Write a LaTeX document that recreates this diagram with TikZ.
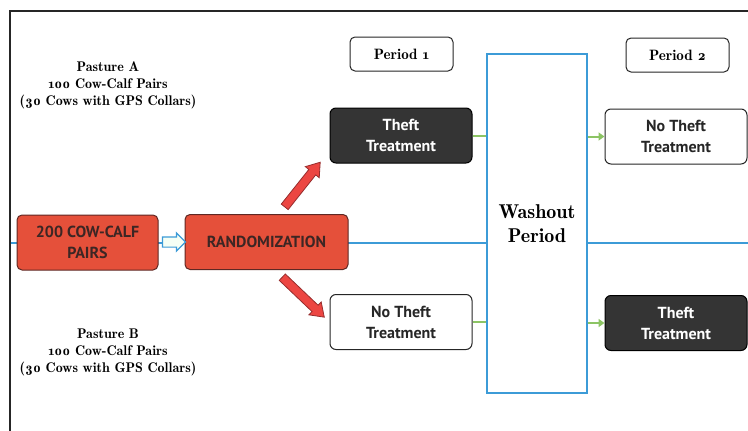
\documentclass[tikz,border=0pt]{standalone}
\usepackage{fontspec}
\setmainfont{Latin Modern Roman}[Numbers=OldStyle]
\newfontfamily\demi{lmromandemi10-regular.otf}[Numbers=OldStyle]
\newfontfamily\boxfont{PT Sans}
\usepackage{xcolor}
\usetikzlibrary{shapes.arrows,arrows.meta,backgrounds,calc}
\definecolor{redfill}{RGB}{229,80,58}
\definecolor{reddark}{RGB}{95,40,35}
\definecolor{redtext}{RGB}{60,38,36}
\definecolor{arrowred}{RGB}{236,70,66}
\definecolor{arrowdark}{RGB}{150,45,45}
\definecolor{darkfill}{RGB}{52,52,52}
\definecolor{lineblue}{RGB}{60,155,215}
\definecolor{linegreen}{RGB}{140,196,100}
\tikzstyle{redbox}=[rectangle,rounded corners=5pt,draw=reddark,fill=redfill,line width=1pt,text=redtext,align=center,minimum height=55pt,font=\boxfont\bfseries\fontsize{16}{21}\selectfont]
\tikzstyle{darkbox}=[rectangle,rounded corners=6pt,draw=black,fill=darkfill,line width=1pt,text=white,align=center,minimum width=142pt,minimum height=55pt,font=\boxfont\bfseries\fontsize{16}{21}\selectfont]
\tikzstyle{lightbox}=[rectangle,rounded corners=6pt,draw=black!85,fill=white,line width=1pt,text=black!85,align=center,minimum width=142pt,minimum height=55pt,font=\boxfont\bfseries\fontsize{16}{21}\selectfont]
\tikzstyle{periodbox}=[rectangle,rounded corners=5pt,draw=black!85,fill=white,line width=1pt,minimum width=103pt,minimum height=34pt,font=\demi\fontsize{15}{18}\selectfont]
\tikzstyle{pasture}=[align=center,font=\demi\fontsize{14}{17}\selectfont]
\tikzstyle{fatarrow}=[single arrow,draw=arrowdark,fill=arrowred,line width=0.8pt,inner xsep=0pt,inner ysep=4pt,single arrow head extend=4.5pt,single arrow tip angle=70]
\tikzstyle{hollowarrow}=[single arrow,draw=lineblue,fill=green!4,line width=1.2pt,inner xsep=0pt,inner ysep=4.5pt,minimum height=23pt,single arrow head extend=4pt,single arrow tip angle=90]
\tikzstyle{greenedge}=[draw,linegreen,line width=2pt]
\tikzstyle{greenarrow}=[draw,linegreen,line width=2pt,-{Triangle[length=6pt,width=8pt]}]
\begin{document}
\begin{tikzpicture}[x=1pt,y=-1pt]

  \useasboundingbox (0,0) rectangle (748,431);

  % frame and time line
  \coordinate (frameS) at (10,431);
  \coordinate (frameNW) at (10,11);
  \coordinate (frameE) at (748,11);
  \draw[black!85, line width=1.6pt] (frameS) -- (frameNW) -- (frameE);

  \node[redbox, minimum width=141pt] (pairs) at (87.5,242.5) {200 COW-CALF\\PAIRS};
  \node[redbox, minimum width=163pt] (rand) at (266.5,242) {RANDOMIZATION};

  \node[hollowarrow] (mid) at (171.5,242) {};

   \foreach \x/\y/\name/\label in {401/135.5/theftA/{Theft\\Treatment}, 676/323/theftB/{Theft\\Treatment}}
          \node[darkbox] (\name) at (\x, \y) {\label};

   \foreach \x/\y/\name/\label in {401/322/notheftA/{No Theft\\Treatment}, 676/136.5/notheftB/{No Theft\\Treatment}}
          \node[lightbox] (\name) at (\x, \y) {\label};

   \foreach \x/\y/\name/\label in {401.5/54/perA/1, 677.5/55/perB/2}
          \node[periodbox] (\name) at (\x, \y) {Period \label};

  \node[rectangle, draw=lineblue, fill=white, line width=1.4pt, minimum width=100pt, minimum height=339pt, align=center, font=\demi\fontsize{20}{24}\selectfont] (wash) at (537,223.5) {Washout\\Period};

  \node[pasture] (pastA) at (108,85) {Pasture A\\100 Cow-Calf Pairs\\(30 Cows with GPS Collars)};
  \node[pasture] (pastB) at (108,352) {Pasture B\\100 Cow-Calf Pairs\\(30 Cows with GPS Collars)};

  % red arrows out of the randomization
  \node[fatarrow, minimum height=57pt, rotate=51.5] (upArr) at (300.5,187) {};
  \node[fatarrow, minimum height=58pt, rotate=-43.6] (downArr) at (301,295) {};

  \begin{scope}[on background layer]
    \coordinate (lineW) at (10,243);
    \coordinate (lineE) at (748,243);
    \draw[lineblue, line width=1.4pt] (lineW) -- (lineE);
  \end{scope}

  \foreach \source in {theftA, notheftA}
         \path[greenedge] (\source.east) -- (\source.east -| wash.west);

  \foreach \dest in {notheftB, theftB}
         \path[greenarrow] (\dest.west -| wash.east) -- (\dest.west);

   \end{tikzpicture}
\end{document}
